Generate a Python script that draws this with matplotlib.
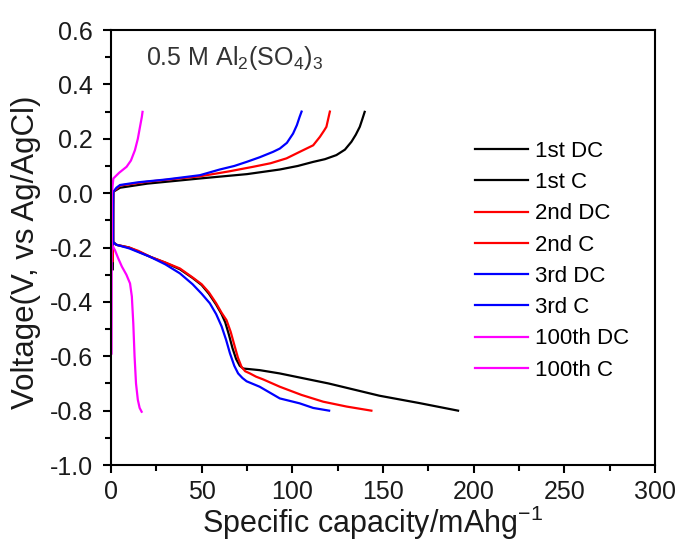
import matplotlib
matplotlib.use("Agg")
import matplotlib.pyplot as plt
from matplotlib.ticker import MultipleLocator

plt.rcParams["font.family"] = ["Liberation Sans", "DejaVu Sans"]
plt.rcParams["mathtext.fontset"] = "custom"
plt.rcParams["mathtext.rm"] = "Liberation Sans"
plt.rcParams["mathtext.it"] = "Liberation Sans"

# Discharge (DC) and charge (C) curves
cap_1dc = [1.0, 1.2, 3, 10, 22, 30, 38, 45, 50, 54, 58, 61, 63, 65, 67, 69, 71, 72.9, 82, 93,
           120, 148, 170, 191.4]
volt_1dc = [0.0, -0.18, -0.19, -0.20, -0.235, -0.256, -0.28, -0.312, -0.338, -0.37, -0.41,
            -0.445, -0.475, -0.52, -0.57, -0.61, -0.635, -0.645, -0.651, -0.663,
            -0.70, -0.745, -0.772, -0.80]
cap_1c = [1.0, 1.3, 5, 20, 49, 75, 93.1, 103, 111.5, 118, 124.3, 129, 132.6, 135, 137.2,
          138.5, 139.9]
volt_1c = [-0.28, 0.005, 0.02, 0.035, 0.054, 0.07, 0.087, 0.10, 0.115, 0.125, 0.14, 0.16,
           0.189, 0.215, 0.244, 0.27, 0.299]

cap_2dc = [1.0, 1.2, 3, 10, 15, 22, 30, 38, 45, 50, 54, 58, 61, 63.7, 66, 68.3, 70, 72, 74,
           76.6, 80, 83.9, 93.1, 105, 117, 130, 143.6]
volt_2dc = [0.0, -0.18, -0.19, -0.20, -0.212, -0.235, -0.255, -0.277, -0.31, -0.335, -0.365,
            -0.405, -0.44, -0.467, -0.51, -0.565, -0.605, -0.639, -0.655, -0.663, -0.675,
            -0.685, -0.712, -0.742, -0.767, -0.785, -0.80]
cap_2c = [1.0, 1.3, 5, 20, 49, 65, 78.4, 88, 96.8, 104.1, 111.5, 115.2, 117.5, 118.8, 120.7]
volt_2c = [-0.25, 0.005, 0.028, 0.042, 0.062, 0.08, 0.097, 0.11, 0.128, 0.152, 0.176, 0.207,
           0.23, 0.244, 0.30]

cap_3dc = [1.0, 1.2, 3, 10, 21.5, 30, 38, 45, 50, 54.5, 58, 61, 63.5, 65.6, 68, 70.1, 72.5,
           74.8, 82, 93.1, 104, 111.5, 120.3]
volt_3dc = [0.0, -0.18, -0.19, -0.203, -0.234, -0.262, -0.295, -0.335, -0.37, -0.405, -0.445,
            -0.49, -0.54, -0.589, -0.635, -0.663, -0.68, -0.692, -0.712, -0.755, -0.773,
            -0.79, -0.80]
cap_3c = [1.0, 1.3, 3, 5, 15, 30, 49, 60, 68, 74.8, 82, 89.4, 93.1, 97, 100.4, 102.5, 104,
          105.1]
volt_3c = [-0.19, 0.005, 0.02, 0.03, 0.04, 0.05, 0.066, 0.087, 0.10, 0.115, 0.132, 0.152,
           0.164, 0.185, 0.219, 0.25, 0.28, 0.30]

cap_100dc = [0.3, 0.5, 2.2, 4, 6, 8.5, 10.5, 11.5, 12.3, 13, 13.8, 14.8, 15.8, 16.9]
volt_100dc = [0.0, -0.19, -0.21, -0.24, -0.27, -0.30, -0.332, -0.38, -0.479, -0.6, -0.70,
              -0.76, -0.79, -0.804]
cap_100c = [0.3, 0.4, 0.5, 1.3, 4.5, 8.6, 11, 13.2, 14.8, 16.0, 17.0, 17.4]
volt_100c = [-0.59, -0.2, 0.0, 0.054, 0.075, 0.097, 0.12, 0.158, 0.2, 0.244, 0.28, 0.299]

series = [
    ("1st DC", cap_1dc, volt_1dc, "black"),
    ("1st C", cap_1c, volt_1c, "black"),
    ("2nd DC", cap_2dc, volt_2dc, "red"),
    ("2nd C", cap_2c, volt_2c, "red"),
    ("3rd DC", cap_3dc, volt_3dc, "blue"),
    ("3rd C", cap_3c, volt_3c, "blue"),
    ("100th DC", cap_100dc, volt_100dc, "magenta"),
    ("100th C", cap_100c, volt_100c, "magenta"),
]

fig = plt.figure(figsize=(6.83, 5.42), dpi=100)
ax = fig.add_axes([0.1625, 0.142, 0.7965, 0.8026])

for label, x, y, color in series:
    ax.plot(x, y, color=color, lw=1.6, label=label)

ax.set_xlim(0, 300)
ax.set_ylim(-1.0, 0.6)
ax.xaxis.set_major_locator(MultipleLocator(50))
ax.xaxis.set_minor_locator(MultipleLocator(25))
ax.yaxis.set_major_locator(MultipleLocator(0.2))
ax.yaxis.set_minor_locator(MultipleLocator(0.1))
ax.yaxis.set_major_formatter(plt.FuncFormatter(lambda v, p: f"{v:.1f}"))

for s in ax.spines.values():
    s.set_linewidth(1.5)
ax.tick_params(which="major", direction="out", length=6, width=1.5,
               labelsize=18, pad=5, colors="black", labelcolor="#1a1a1a")
ax.tick_params(axis="y", which="major", pad=7)
ax.tick_params(which="minor", direction="out", length=4, width=1.5)
ax.tick_params(top=False, right=False, which="both")

ax.set_xlabel("Specific capacity/mAhg$^{-1}$", fontsize=22, color="#1a1a1a")
ax.xaxis.set_label_coords(0.48, -0.088)
ax.set_ylabel("Voltage(V, vs Ag/AgCl)", fontsize=22.5, color="#1a1a1a")
ax.yaxis.set_label_coords(-0.128, 0.49)

ax.text(0.065, 0.935, "0.5 M Al$_2$(SO$_4$)$_3$", transform=ax.transAxes,
        fontsize=18, color="#333333", va="center", ha="left")

ax.legend(loc="upper left", bbox_to_anchor=(0.669, 0.745), frameon=False,
          fontsize=16, handlelength=2.4, handletextpad=0.3, labelspacing=0.46,
          borderaxespad=0, borderpad=0)

fig.savefig("out.png", dpi=100)
